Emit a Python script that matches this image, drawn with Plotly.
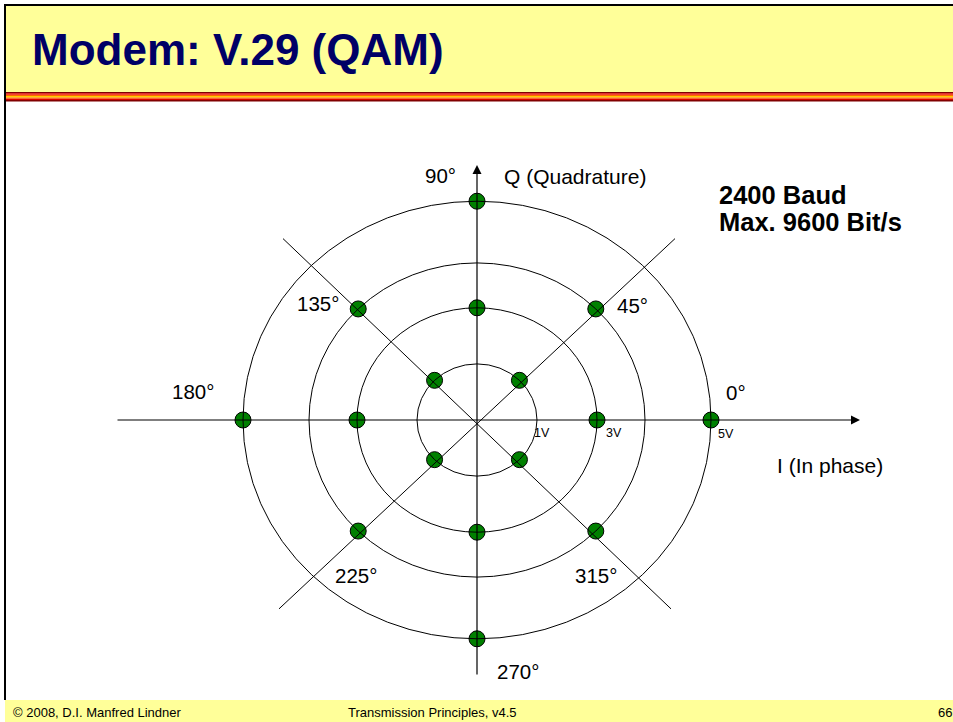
import math
import plotly.graph_objects as go

# ---------------- data ----------------
ring_radii = [1.5, 3.0, 4.2, 5.85]          # drawn ring radii (diagram units)
ring_labels = ["1V", "3V", None, "5V"]
point_angles = [45, 135, 225, 315, 0, 90, 180, 270, 45, 135, 225, 315, 0, 90, 180, 270]
point_ring = [0, 0, 0, 0, 1, 1, 1, 1, 2, 2, 2, 2, 3, 3, 3, 3]
angle_labels = ["0°", "45°", "90°", "135°", "180°", "225°", "270°", "315°"]
title_text = "Modem: V.29 (QAM)"
info_lines = ["2400 Baud", "Max. 9600 Bit/s"]
footer_left = "© 2008, D.I. Manfred Lindner"
footer_mid = "Transmission Principles, v4.5"
footer_right = "66"

# ---------------- geometry helpers ----------------
W, H = 953, 722
CX, CY = 477, 420
SX, SY = 40.0, 37.4


def dx(px):
    return (px - CX) / SX


def dy(py):
    return (CY - py) / SY


def pxp(px):
    return px / W


def pyp(py):
    return 1 - py / H


xs = [ring_radii[r] * math.cos(math.radians(a)) for a, r in zip(point_angles, point_ring)]
ys = [ring_radii[r] * math.sin(math.radians(a)) for a, r in zip(point_angles, point_ring)]

fig = go.Figure()
fig.add_trace(go.Scatter(
    x=xs, y=ys, mode="markers",
    marker=dict(size=16, color="#008000", line=dict(color="black", width=1)),
    cliponaxis=False, hoverinfo="skip", showlegend=False))

shapes = []
# background slide decoration
shapes.append(dict(type="rect", xref="paper", yref="paper", x0=pxp(5), x1=1.01, y0=pyp(92), y1=pyp(5),
                   fillcolor="#FFFF99", line=dict(width=0), layer="below"))
stripe_cols = ["#800000", "#E00000", "#FF6600", "#FFCC00", "#FF6600", "#E00000", "#800000"]
y = 92.0
for c in stripe_cols:
    shapes.append(dict(type="rect", xref="paper", yref="paper", x0=pxp(5), x1=1.01,
                       y0=pyp(y + 1.35), y1=pyp(y), fillcolor=c, line=dict(width=0), layer="below"))
    y += 1.35
shapes.append(dict(type="rect", xref="paper", yref="paper", x0=pxp(5), x1=1.01, y0=-0.01, y1=pyp(700),
                   fillcolor="#FFFF99", line=dict(width=0), layer="below"))
# border
shapes.append(dict(type="line", xref="paper", yref="paper", x0=pxp(5), x1=pxp(5), y0=pyp(700), y1=pyp(4),
                   line=dict(color="black", width=2), layer="above"))
shapes.append(dict(type="line", xref="paper", yref="paper", x0=pxp(4), x1=1.01, y0=pyp(5), y1=pyp(5),
                   line=dict(color="black", width=2), layer="above"))

# rings
for r in ring_radii:
    shapes.append(dict(type="circle", xref="x", yref="y", x0=-r, x1=r, y0=-r, y1=r,
                       line=dict(color="black", width=1), layer="above"))
# diagonals
d = 4.85
shapes.append(dict(type="line", xref="x", yref="y", x0=-d, y0=d, x1=d, y1=-d - 0.2,
                   line=dict(color="black", width=1), layer="above"))
shapes.append(dict(type="line", xref="x", yref="y", x0=-d - 0.1, y0=-d - 0.2, x1=d + 0.1, y1=d,
                   line=dict(color="black", width=1), layer="above"))
fig.update_layout(shapes=shapes)

ann = []
# axes with arrows
ann.append(dict(x=dx(860), y=0, ax=dx(116), ay=0, xref="x", yref="y", axref="x", ayref="y", text="",
                showarrow=True, arrowhead=2, arrowsize=1.5, arrowwidth=1.2, arrowcolor="black", standoff=0))
ann.append(dict(x=0, y=dy(165), ax=0, ay=dy(676), xref="x", yref="y", axref="x", ayref="y", text="",
                showarrow=True, arrowhead=2, arrowsize=1.5, arrowwidth=1.2, arrowcolor="black", standoff=0))

FONT = "Liberation Sans, Arial, sans-serif"


def label(text, px, py, size=20, xanchor="center", bold=False, color="black", ref="data"):
    t = f"<b>{text}</b>" if bold else text
    if ref == "data":
        ann.append(dict(x=dx(px), y=dy(py), xref="x", yref="y", text=t, showarrow=False,
                        xanchor=xanchor, yanchor="middle", font=dict(family=FONT, size=size, color=color)))
    else:
        ann.append(dict(x=pxp(px), y=pyp(py), xref="paper", yref="paper", text=t, showarrow=False,
                        xanchor=xanchor, yanchor="middle", font=dict(family=FONT, size=size, color=color)))


angle_pos = [(736, 392), (632, 305), (440, 175), (318, 303), (193, 391), (356, 575), (518, 671), (596, 575)]
for t, (px, py) in zip(angle_labels, angle_pos):
    label(t, px, py, size=20.5)

label("Q (Quadrature)", 502, 176, size=21, xanchor="left")
label("I (In phase)", 830, 465, size=21)

ring_label_pos = [(542, 433), (614, 433), None, (726, 434)]
for t, p in zip(ring_labels, ring_label_pos):
    if t:
        label(t, p[0], p[1], size=12.5)

label(info_lines[0], 717, 195, size=25.5, xanchor="left", bold=True)
label(info_lines[1], 717, 222, size=25.5, xanchor="left", bold=True)

label(title_text, 30, 49, size=44, xanchor="left", bold=True, color="#000066", ref="paper")
label(footer_left, 11, 712, size=13, xanchor="left", ref="paper")
label(footer_mid, 346, 712, size=13, xanchor="left", ref="paper")
label(footer_right, 936, 712, size=13, xanchor="left", ref="paper")

fig.update_layout(
    annotations=ann,
    width=W, height=H,
    margin=dict(l=0, r=0, t=0, b=0),
    paper_bgcolor="white", plot_bgcolor="white",
    xaxis=dict(range=[dx(0), dx(W)], visible=False, fixedrange=True),
    yaxis=dict(range=[dy(H), dy(0)], visible=False, fixedrange=True),
    showlegend=False,
)
fig.write_html("out.html", config={"displayModeBar": False},
               post_script="document.body.style.margin='0';document.body.style.overflow='hidden';")
